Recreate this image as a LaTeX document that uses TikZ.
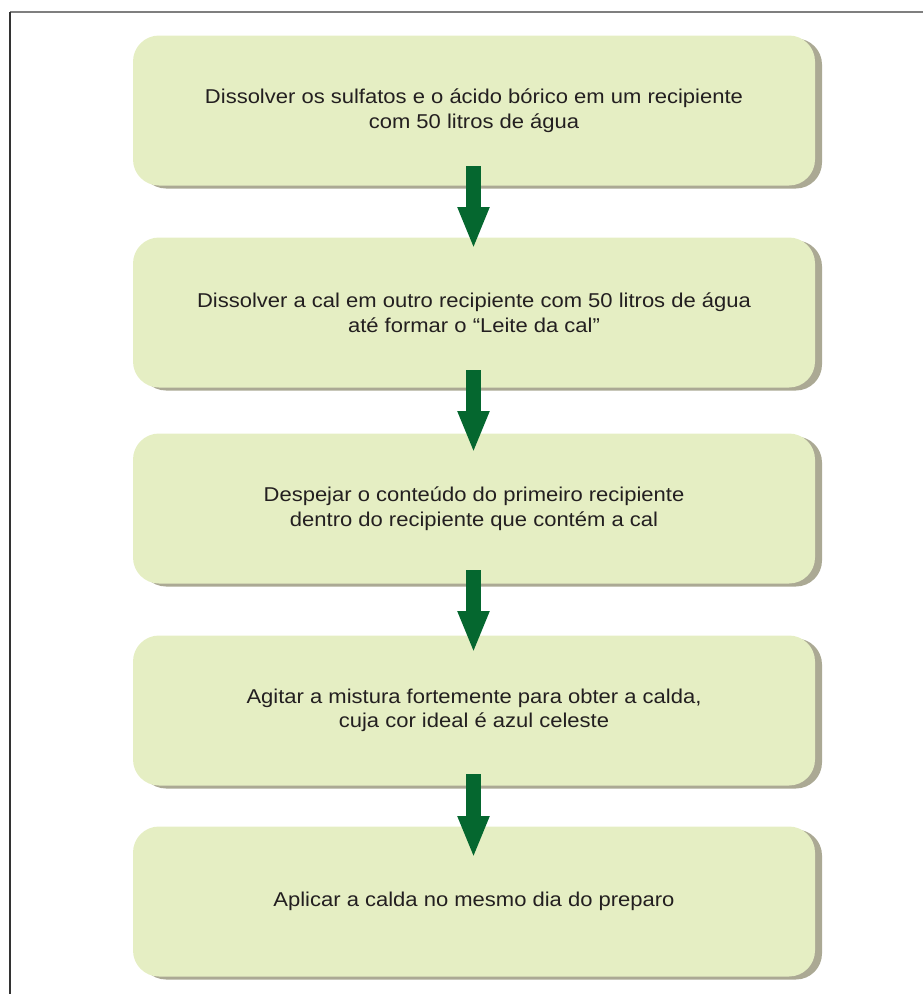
\documentclass[tikz,border=0pt]{standalone}
\usepackage{fontspec}
\setmainfont{Liberation Sans}[FakeStretch=1.1]
\usetikzlibrary{arrows.meta,shadows}
\definecolor{boxfill}{HTML}{E5EEC3}
\definecolor{boxshade}{HTML}{ABA994}
\definecolor{arrowgreen}{HTML}{05672F}
\definecolor{textgray}{HTML}{231F20}
\definecolor{framegray}{HTML}{7F7F7F}
\tikzset{
  stepbox/.style={rectangle, rounded corners=26pt, fill=boxfill,
    minimum width=682pt, minimum height=150pt, inner sep=0pt,
    align=center, text=textgray,
    font=\fontsize{20}{24.5}\selectfont,
    drop shadow={shadow xshift=7pt, shadow yshift=-3pt, fill=boxshade, opacity=1}},
  flowarrow/.style={draw=arrowgreen, line width=15pt,
    -{Triangle[width=29pt,length=42pt,fill=arrowgreen]}}
}
\begin{document}
\begin{tikzpicture}[x=1pt,y=-1pt]
  \useasboundingbox (0,0) rectangle (923,994);
  % frame
  \draw[framegray, line width=1.2pt] (10,12) -- (923,12);
  \draw[black!80, line width=1.5pt] (10,12) -- (10,994);

  % steps
  \node[stepbox] (b1) at (474,110.5) {Dissolver os sulfatos e o ácido bórico em um recipiente\\com 50 litros de água};
  \node[stepbox] (b2) at (474,312.5) {Dissolver a cal em outro recipiente com 50 litros de água\\até formar o “Leite da cal”};
  \node[stepbox] (b3) at (474,508.5) {Despejar o conteúdo do primeiro recipiente\\dentro do recipiente que contém a cal};
  \node[stepbox] (b4) at (474,710.5) {Agitar a mistura fortemente para obter a calda,\\cuja cor ideal é azul celeste};
  \node[stepbox] (b5) at (474,901.5) {Aplicar a calda no mesmo dia do preparo};

  % arrow end points
  \coordinate (a1s) at (473.5,166); \coordinate (a1e) at (473.5,249);
  \coordinate (a2s) at (473.5,370); \coordinate (a2e) at (473.5,453);
  \coordinate (a3s) at (473.5,570); \coordinate (a3e) at (473.5,653);
  \coordinate (a4s) at (473.5,774); \coordinate (a4e) at (473.5,858);

  \draw[flowarrow] (a1s) -- (a1e);
  \draw[flowarrow] (a2s) -- (a2e);
  \draw[flowarrow] (a3s) -- (a3e);
  \draw[flowarrow] (a4s) -- (a4e);
\end{tikzpicture}
\end{document}
